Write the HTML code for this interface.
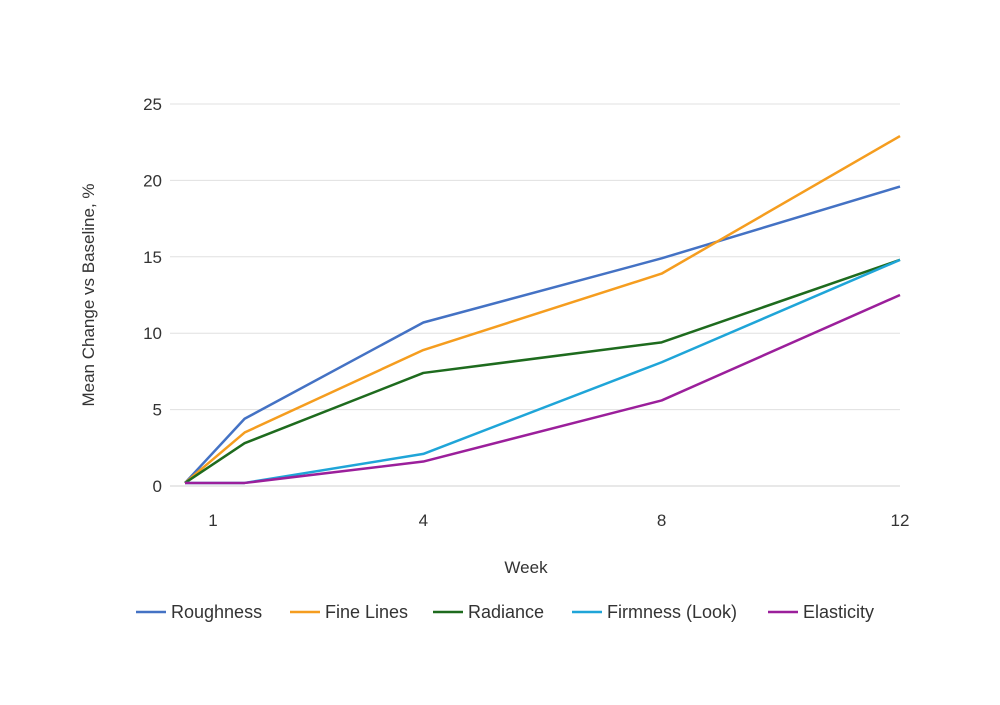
<!DOCTYPE html>
<html><head><meta charset="utf-8"><style>
body{margin:0;background:#fff;}
svg text{font-family:"Liberation Sans",sans-serif;fill:#333;}
</style></head><body>
<svg width="1000" height="700">
<g id="grid"></g><g id="series"></g><g id="legend"></g>
<text x="94" y="295" font-size="17" text-anchor="middle" transform="rotate(-90 94 295)">Mean Change vs Baseline, %</text>
<text x="526" y="573" font-size="17" text-anchor="middle">Week</text>
</svg>
<script>
const weeks=[0,1,4,8,12];
const xTickVals=[0.47,4,8,12];
const xTickLabels=["1","4","8","12"];
const yTicks=[0,5,10,15,20,25];
const seriesNames=["Roughness","Fine Lines","Radiance","Firmness (Look)","Elasticity"];
const roughness=[0.2,4.4,10.7,14.9,19.6];
const fineLines=[0.2,3.5,8.9,13.9,22.9];
const radiance=[0.2,2.8,7.4,9.4,14.8];
const firmness=[0.2,0.2,2.1,8.1,14.8];
const elasticity=[0.2,0.2,1.6,5.6,12.5];
const colors=["#4472c4","#f59d1f","#1e6b1e","#1fa5d8","#9b1f9b"];
const NS="http://www.w3.org/2000/svg";
const xs=w=>185+w*(900-185)/12;
const ys=v=>486-v*(486-104)/25;
function mk(t,a,p){const e=document.createElementNS(NS,t);for(const k in a)e.setAttribute(k,a[k]);p.appendChild(e);return e;}
const grid=document.getElementById('grid');
yTicks.forEach(v=>{
 const l=mk('line',{x1:170,x2:900,y1:ys(v),y2:ys(v),stroke:v===0?'#d0d0d0':'#e0e0e0','stroke-width':1},grid);
 
 
 const t=mk('text',{x:162,y:ys(v)+6,'font-size':17,'text-anchor':'end'},grid);t.textContent=v;
 
 
});
xTickVals.forEach((w,i)=>{
 const t=mk('text',{x:xs(w),y:526,'font-size':17,'text-anchor':'middle'},grid);t.textContent=xTickLabels[i];
 
 
});
const all=[roughness,fineLines,radiance,firmness,elasticity];
const sg=document.getElementById('series');
all.forEach((d,i)=>{
 const p=mk('polyline',{points:d.map((v,j)=>xs(weeks[j])+','+ys(v)).join(' '),fill:'none',stroke:colors[i],'stroke-width':2.5,'stroke-linejoin':'round'},sg);
 
 
});
const lg=document.getElementById('legend');
const lx=[136,290,433,572,768];
seriesNames.forEach((n,i)=>{
 const g=mk('g',{},lg);
 
 
 mk('line',{x1:lx[i],x2:lx[i]+30,y1:612,y2:612,stroke:colors[i],'stroke-width':2.5},g);
 const t=mk('text',{x:lx[i]+35,y:618,'font-size':18},g);t.textContent=n;
});
</script>
</body></html>
